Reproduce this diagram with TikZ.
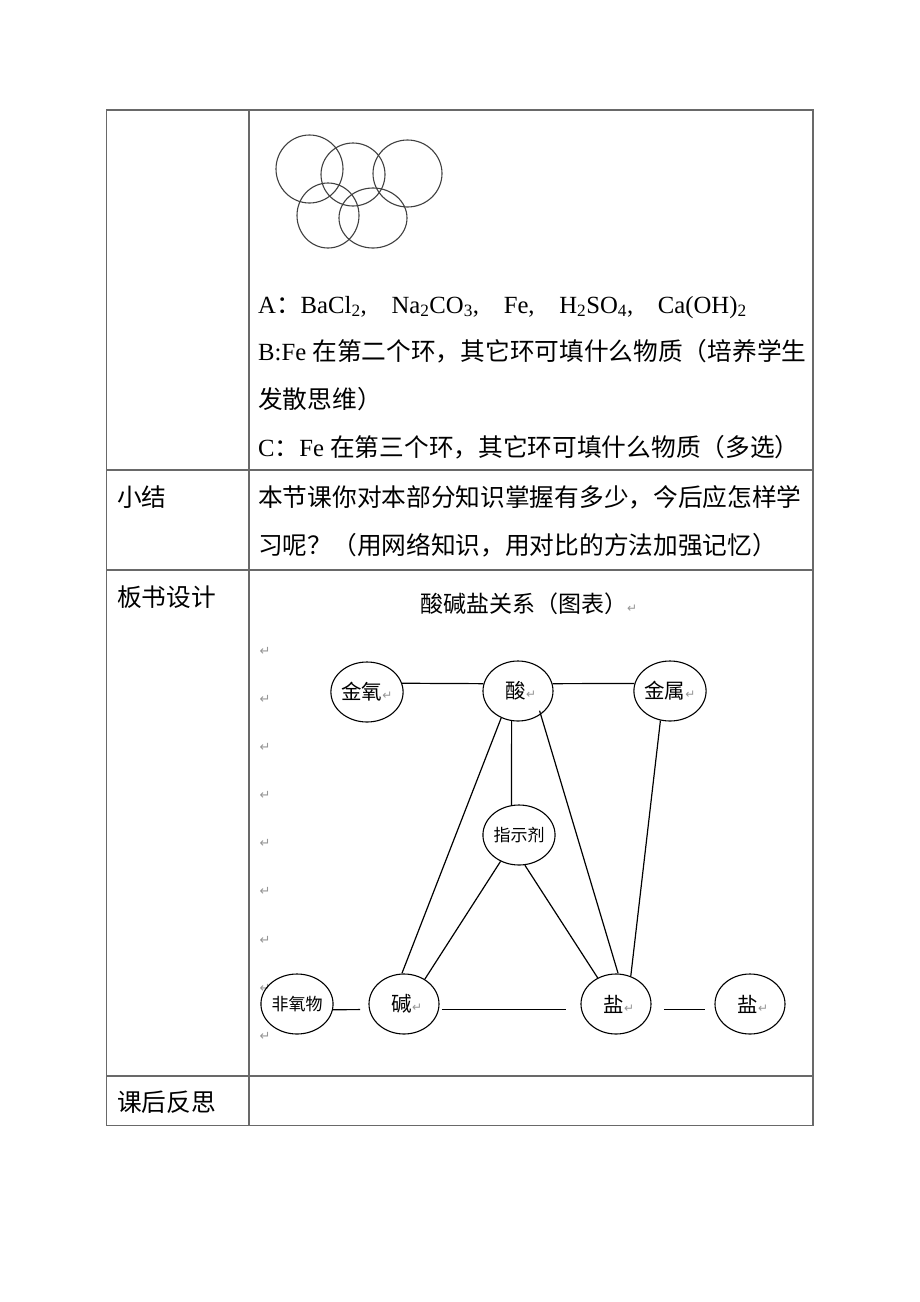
\documentclass[tikz,border=0pt]{standalone}
\usepackage{fontspec}
\setmainfont{Liberation Serif}
\newfontfamily\cjk{Noto Sans CJK SC}
\newfontfamily\symf{DejaVu Sans}
\usetikzlibrary{positioning, shapes.geometric}
\definecolor{retgray}{RGB}{150,150,150}
\definecolor{rulegray}{RGB}{105,105,105}
\newcommand{\zh}[1]{{\cjk #1}}
\newcommand{\ret}{{\symf\color{retgray}\fontsize{12}{12}\selectfont ↵}}

\begin{document}
\begin{tikzpicture}[x=1pt, y=-1pt,
    rule/.style={draw=rulegray, line width=1.2pt},
    ring/.style={draw=black!75, line width=1.1pt},
    body/.style={anchor=base west, inner sep=0pt, font=\fontsize{24.7}{30}\selectfont},
    chem/.style={ellipse, draw, line width=1.1pt, minimum width=70pt, minimum height=60pt, inner sep=0pt, font=\cjk\fontsize{20.5}{21}\selectfont},
    small/.style={chem, font=\cjk\fontsize{17}{17}\selectfont},
    link/.style={line width=1.2pt},
    retmark/.style={inner sep=0pt, font=\symf\fontsize{13}{13}\selectfont, text=retgray}]
    \useasboundingbox[fill=white] (0,0) rectangle (920,1302);

    % table
    \draw[rule] (106.5,110) rectangle (813,1125.5);
    \draw[rule] (249,110) -- (249,1125.5);
    \foreach \yy in {470,570,1076}
        \draw[rule] (106.5,\yy) -- (813,\yy);

    % five rings
    \draw[ring] (309.5,169) ellipse [x radius=33.5pt, y radius=34pt];
    \draw[ring] (353,174.5) ellipse [x radius=32pt, y radius=31.5pt];
    \draw[ring] (407.5,173.5) ellipse [x radius=34.5pt, y radius=33.5pt];
    \draw[ring] (328,215.5) ellipse [x radius=31pt, y radius=32.5pt];
    \draw[ring] (373,218) ellipse [x radius=34pt, y radius=30pt];

    \node[body] (lineA) at (258,313) {A\zh{：}BaCl\textsubscript{2},\hspace{1em}Na\textsubscript{2}CO\textsubscript{3},\hspace{1em}Fe,\hspace{1em}H\textsubscript{2}SO\textsubscript{4},\hspace{1em}Ca(OH)\textsubscript{2}};
    \node[body] (lineB) at (258,360.4) {B:Fe \zh{在第二个环，其它环可填什么物质（培养学生}};
    \node[body] (lineB2) at (258,408.2) {\zh{发散思维）}};
    \node[body] (lineC) at (258,456) {C\zh{：}Fe \zh{在第三个环，其它环可填什么物质（多选）}};

    \node[body] (sumhead) at (117,506.4) {\zh{小结}};
    \node[body] (sum1) at (258,506.4) {\zh{本节课你对本部分知识掌握有多少，今后应怎样学}};
    \node[body] (sum2) at (258,554.4) {\zh{习呢？（用网络知识，用对比的方法加强记忆）}};
    \node[body] (boardhead) at (117,606.4) {\zh{板书设计}};
    \node[body] (reflecthead) at (117,1111.4) {\zh{课后反思}};

    % board diagram
    \node[body, font=\cjk\fontsize{23}{26}\selectfont] (title) at (420,612.7) {酸碱盐关系（图表）\ret};
    \foreach \i/\yy in {1/651,2/699,3/747,4/795,5/843,6/891,7/940,8/988,9/1036}
        \node[retmark] (ret\i) at (265,\yy) {↵};

    \node[chem] (jinyang) at (367,692) {金氧\ret};
    \node[chem] (suan) at (518,691) {\hspace{6pt}酸\ret};
    \node[chem] (jinshu) at (670,691) {金属\ret};
    \node[small] (zhishi) at (519,835) {指示剂};
    \node[small] (feiyang) at (297,1004) {非氧物};
    \node[chem] (jian) at (404,1004) {\hspace{6pt}碱\ret};
    \node[chem] (yan) at (616,1004) {\hspace{6pt}盐\ret};
    \node[chem] (yan2) at (750,1004) {\hspace{6pt}盐\ret};

    \draw[link] (jinyang.14) -- (suan.168);
    \draw[link] (suan.12) -- (jinshu.168);
    \draw[link] (suan.258) -- (zhishi.104);
    \draw[link] (suan.238) -- (jian.94);
    \draw[link, shorten <=-4pt] (suan.314) -- (yan.86);
    \draw[link] (jinshu.252) -- (yan.62);
    \draw[link] (zhishi.235) -- (jian.50);
    \draw[link] (zhishi.281) -- (yan.125);
    \draw[link, shorten >=9pt] (feiyang.-9) -- (jian.189);
    \draw[link, shorten <=3pt, shorten >=15pt] (jian.-9) -- (yan.189);
    \draw[link, shorten <=13pt, shorten >=10pt] (yan.-9) -- (yan2.189);
\end{tikzpicture}
\end{document}
